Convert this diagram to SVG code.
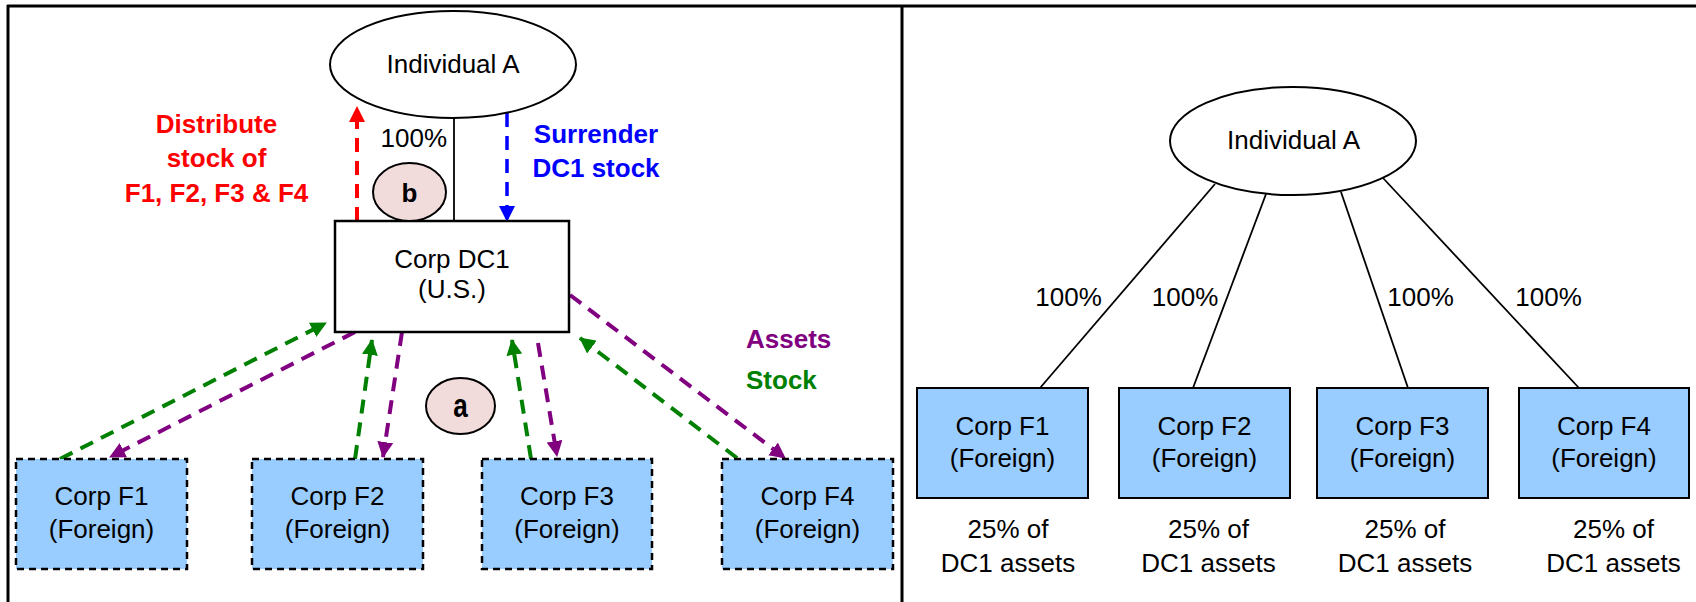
<svg xmlns="http://www.w3.org/2000/svg" width="1696" height="602" viewBox="0 0 1696 602">
  <style>
    text { font-family: "Liberation Sans", Arial, sans-serif; font-size: 26px; fill: #000; }
    .mid { text-anchor: middle; }
    .bold { font-weight: bold; }
    .frame { stroke: #000; stroke-width: 3; fill: none; }
    .owner { fill: #fff; stroke: #000; stroke-width: 2; }
    .corp { fill: #fff; stroke: #000; stroke-width: 2.5; }
    .foreign-dash { fill: #99CCFF; stroke: #000; stroke-width: 2.5; stroke-dasharray: 7 5; }
    .foreign { fill: #99CCFF; stroke: #000; stroke-width: 2; }
    .step { fill: #F2DCDB; stroke: #000; stroke-width: 2; }
    .own { stroke: #000; stroke-width: 1.8; fill: none; }
    .flow { stroke-width: 4; fill: none; stroke-dasharray: 14 9; }
    .green { stroke: #008000; }
    .purple { stroke: #800080; }
    .red { stroke: #FF0000; }
    .blue { stroke: #0000FF; stroke-width: 3.5; }
  </style>
  <defs>
    <marker id="ahGreen" markerUnits="userSpaceOnUse" viewBox="0 0 16 16" refX="15" refY="8" markerWidth="16" markerHeight="16" orient="auto">
      <path d="M0,0 L16,8 L0,16 Z" fill="#008000"/>
    </marker>
    <marker id="ahPurple" markerUnits="userSpaceOnUse" viewBox="0 0 16 16" refX="15" refY="8" markerWidth="16" markerHeight="16" orient="auto">
      <path d="M0,0 L16,8 L0,16 Z" fill="#800080"/>
    </marker>
    <marker id="ahRed" markerUnits="userSpaceOnUse" viewBox="0 0 16 16" refX="15" refY="8" markerWidth="16" markerHeight="16" orient="auto">
      <path d="M0,0 L16,8 L0,16 Z" fill="#FF0000"/>
    </marker>
    <marker id="ahBlue" markerUnits="userSpaceOnUse" viewBox="0 0 16 16" refX="15" refY="8" markerWidth="16" markerHeight="16" orient="auto">
      <path d="M0,0 L16,8 L0,16 Z" fill="#0000FF"/>
    </marker>
  </defs>

  <rect x="0" y="0" width="1696" height="602" fill="#fff"/>

  <!-- table frame: top rule, left edge and centre divider -->
  <g id="frame">
    <line class="frame" x1="7" y1="6" x2="1696" y2="6"/>
    <line class="frame" x1="8" y1="5" x2="8" y2="602"/>
    <line class="frame" x1="902" y1="5" x2="902" y2="602"/>
  </g>

  <!-- connectors -->
  <g id="connectors">
    <!-- left: ownership of DC1 -->
    <line class="own" x1="454" y1="118" x2="454" y2="221"/>
    <!-- step b -->
    <line class="flow red" x1="357" y1="221" x2="357" y2="107" marker-end="url(#ahRed)"/>
    <line class="flow blue" x1="507" y1="113" x2="507" y2="221" marker-end="url(#ahBlue)"/>
    <!-- step a: stock up, assets down -->
    <line class="flow green" x1="60" y1="459" x2="326" y2="323" marker-end="url(#ahGreen)"/>
    <line class="flow purple" x1="355" y1="332" x2="110" y2="457" marker-end="url(#ahPurple)"/>
    <line class="flow green" x1="355" y1="459" x2="372" y2="340" marker-end="url(#ahGreen)"/>
    <line class="flow purple" x1="402" y1="332" x2="383" y2="457" marker-end="url(#ahPurple)"/>
    <line class="flow green" x1="531" y1="459" x2="512" y2="340" marker-end="url(#ahGreen)"/>
    <line class="flow purple" x1="538" y1="343" x2="557" y2="456" marker-end="url(#ahPurple)"/>
    <line class="flow green" x1="737" y1="458" x2="580" y2="338" marker-end="url(#ahGreen)"/>
    <line class="flow purple" x1="570" y1="295" x2="785" y2="458" marker-end="url(#ahPurple)"/>
    <!-- right: ownership after the restructuring -->
    <line class="own" x1="1215" y1="184" x2="1040" y2="388"/>
    <line class="own" x1="1266" y1="194" x2="1193" y2="388"/>
    <line class="own" x1="1341" y1="192" x2="1408" y2="388"/>
    <line class="own" x1="1383" y1="178" x2="1579" y2="388"/>
  </g>

  <!-- left panel nodes -->
  <g id="individual-a-left">
    <ellipse class="owner" cx="453" cy="64.5" rx="123" ry="53.5"/>
    <text class="mid" x="453" y="73">Individual A</text>
  </g>
  <g id="pct-dc1">
    <text x="447" y="147" text-anchor="end">100%</text>
  </g>
  <g id="corp-dc1">
    <rect class="corp" x="335" y="221" width="234" height="111"/>
    <text class="mid" x="452" y="268">Corp DC1</text>
    <text class="mid" x="452" y="298">(U.S.)</text>
  </g>
  <g id="step-b">
    <ellipse class="step" cx="409.5" cy="192" rx="36.5" ry="29"/>
    <text class="mid bold" x="409.5" y="202" font-size="28">b</text>
  </g>
  <g id="step-a">
    <ellipse class="step" cx="460.5" cy="406" rx="34.5" ry="28"/>
    <text class="mid bold" transform="translate(460.5,417) scale(1,1.3)" font-size="28">a</text>
  </g>
  <g id="label-distribute">
    <text class="mid bold" x="216.5" y="133" fill="#FF0000" style="fill:#FF0000">Distribute</text>
    <text class="mid bold" x="216.5" y="167" style="fill:#FF0000">stock of</text>
    <text class="mid bold" x="216.5" y="202" style="fill:#FF0000">F1, F2, F3 &amp; F4</text>
  </g>
  <g id="label-surrender">
    <text class="mid bold" x="596" y="143" style="fill:#0000FF">Surrender</text>
    <text class="mid bold" x="596" y="177" style="fill:#0000FF">DC1 stock</text>
  </g>
  <g id="legend">
    <text class="bold" x="746" y="348" style="fill:#800080">Assets</text>
    <text class="bold" x="746" y="389" style="fill:#008000">Stock</text>
  </g>
  <g id="corp-f1-left">
    <rect class="foreign-dash" x="16" y="459" width="171" height="110"/>
    <text class="mid" x="101.5" y="505">Corp F1</text>
    <text class="mid" x="101.5" y="538">(Foreign)</text>
  </g>
  <g id="corp-f2-left">
    <rect class="foreign-dash" x="252" y="459" width="171" height="110"/>
    <text class="mid" x="337.5" y="505">Corp F2</text>
    <text class="mid" x="337.5" y="538">(Foreign)</text>
  </g>
  <g id="corp-f3-left">
    <rect class="foreign-dash" x="482" y="459" width="170" height="110"/>
    <text class="mid" x="567" y="505">Corp F3</text>
    <text class="mid" x="567" y="538">(Foreign)</text>
  </g>
  <g id="corp-f4-left">
    <rect class="foreign-dash" x="722" y="459" width="171" height="110"/>
    <text class="mid" x="807.5" y="505">Corp F4</text>
    <text class="mid" x="807.5" y="538">(Foreign)</text>
  </g>

  <!-- right panel nodes -->
  <g id="individual-a-right">
    <ellipse class="owner" cx="1293" cy="141" rx="123" ry="54"/>
    <text class="mid" x="1293.5" y="149">Individual A</text>
  </g>
  <g id="pct-labels-right">
    <text class="mid" x="1068.5" y="306">100%</text>
    <text class="mid" x="1185" y="306">100%</text>
    <text class="mid" x="1420.5" y="306">100%</text>
    <text class="mid" x="1548.5" y="306">100%</text>
  </g>
  <g id="corp-f1-right">
    <rect class="foreign" x="917" y="388" width="171" height="110"/>
    <text class="mid" x="1002.5" y="435">Corp F1</text>
    <text class="mid" x="1002.5" y="467">(Foreign)</text>
    <text class="mid" x="1008" y="538">25% of</text>
    <text class="mid" x="1008" y="572">DC1 assets</text>
  </g>
  <g id="corp-f2-right">
    <rect class="foreign" x="1119" y="388" width="171" height="110"/>
    <text class="mid" x="1204.5" y="435">Corp F2</text>
    <text class="mid" x="1204.5" y="467">(Foreign)</text>
    <text class="mid" x="1208.5" y="538">25% of</text>
    <text class="mid" x="1208.5" y="572">DC1 assets</text>
  </g>
  <g id="corp-f3-right">
    <rect class="foreign" x="1317" y="388" width="171" height="110"/>
    <text class="mid" x="1402.5" y="435">Corp F3</text>
    <text class="mid" x="1402.5" y="467">(Foreign)</text>
    <text class="mid" x="1405" y="538">25% of</text>
    <text class="mid" x="1405" y="572">DC1 assets</text>
  </g>
  <g id="corp-f4-right">
    <rect class="foreign" x="1519" y="388" width="170" height="110"/>
    <text class="mid" x="1604" y="435">Corp F4</text>
    <text class="mid" x="1604" y="467">(Foreign)</text>
    <text class="mid" x="1613.5" y="538">25% of</text>
    <text class="mid" x="1613.5" y="572">DC1 assets</text>
  </g>
</svg>
